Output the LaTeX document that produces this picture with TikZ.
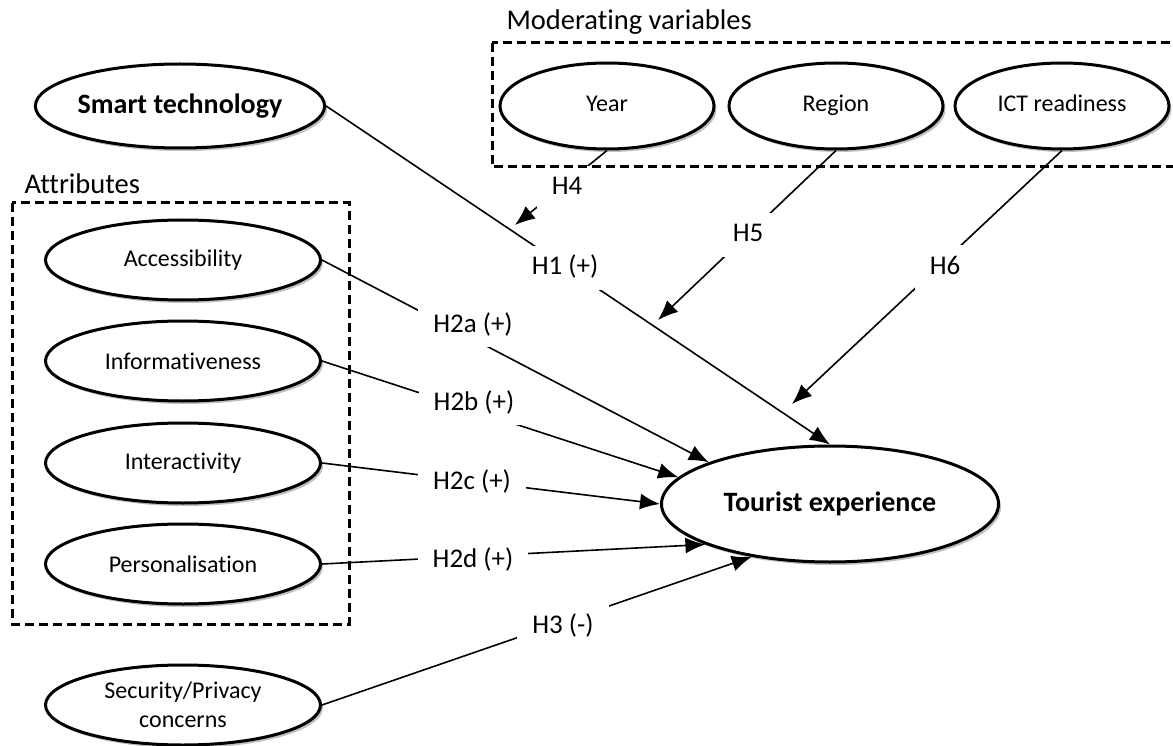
\documentclass[tikz,border=0pt]{standalone}
\usepackage{fontspec}
\setmainfont{Carlito}[Ligatures=NoCommon]
\usetikzlibrary{arrows.meta, shapes.geometric, shadows}

\begin{document}
\begin{tikzpicture}[x=1pt, y=-1pt,
  construct/.style={ellipse, draw=black, line width=3pt, fill=white,
                    inner sep=0pt, minimum width=275pt, minimum height=80pt,
                    font=\fontsize{24}{29}\selectfont, align=center,
                    drop shadow={shadow xshift=2.5pt, shadow yshift=-3pt,
                                 fill=black, opacity=0.25}},
  moderator/.style={construct, minimum width=214pt, minimum height=86pt,
                    text height=17pt, text depth=5pt},
  hyp/.style={fill=white, inner xsep=15pt, inner ysep=11pt,
              text height=18pt, text depth=4pt,
              font=\fontsize{27}{31}\selectfont},
  group/.style={draw=black, line width=3pt, dash pattern=on 9pt off 5pt},
  grouptitle/.style={anchor=west, font=\fontsize{28.5}{32}\selectfont},
  link/.style={line width=1.6pt},
  effect/.style={link, -{Latex[length=20pt, width=16pt]}}]
  \useasboundingbox (0,0) rectangle (1173,746);
  % constructs
  \node[construct, minimum width=276pt, minimum height=84pt,
        font=\bfseries\fontsize{28}{32}\selectfont] (smart) at (180,106)
    {Smart technology};
  \node[moderator] (year)   at (607,106)  {Year};
  \node[moderator] (region) at (836,106)  {Region};
  \node[moderator] (ict)    at (1062,106) {ICT readiness};
  \node[construct] (access)   at (183,260) {Accessibility};
  \node[construct] (inform)   at (183,361) {Informativeness};
  \node[construct] (interact) at (183,463) {Interactivity};
  \node[construct] (person)   at (183,564) {Personalisation};
  \node[construct] (privacy)  at (183,705) {Security/Privacy\\concerns};
  \node[construct, minimum width=337pt, minimum height=116pt,
        font=\bfseries\fontsize{28}{32}\selectfont] (tourist) at (830,504)
    {Tourist experience};
  % direct effects
  \draw[effect] (smart.east)    -- (tourist.north);
  \draw[effect] (access.east)   -- (tourist.161);
  \draw[effect] (inform.east)   -- (tourist.170);
  \draw[effect] (interact.east) -- (tourist.west);
  \draw[effect] (person.east)   -- (tourist.198);
  \draw[effect] (privacy.east)  -- (tourist.214);
  % moderators aim at the H1 path
  \coordinate (onh1a) at (515,225);
  \coordinate (onh1b) at (658,320);
  \coordinate (onh1c) at (792,404);
  \draw[effect] (year.south)   -- (onh1a);
  \draw[effect] (region.south) -- (onh1b);
  \draw[effect] (ict.south)    -- (onh1c);
  % hypothesis labels mask their paths
  \node[hyp] (h1)  at (565,268) {H1 (+)};
  \node[hyp] (h2a) at (473,325) {H2a (+)};
  \node[hyp] (h2b) at (474,403) {H2b (+)};
  \node[hyp] (h2c) at (472,482) {H2c (+)};
  \node[hyp] (h2d) at (473,560) {H2d (+)};
  \node[hyp] (h3)  at (563,626) {H3 (-)};
  \node[hyp] (h4)  at (567,188) {H4};
  \node[hyp] (h5)  at (748,235) {H5};
  \node[hyp] (h6)  at (945,267) {H6};
  % groups
  \draw[group] (492,43) rectangle (1190,167);
  \node[grouptitle] (modtitle) at (503,22) {Moderating variables};
  \draw[group] (12,203) rectangle (349,624);
  \node[grouptitle] (attrtitle) at (21,184) {Attributes};
\end{tikzpicture}
\end{document}
